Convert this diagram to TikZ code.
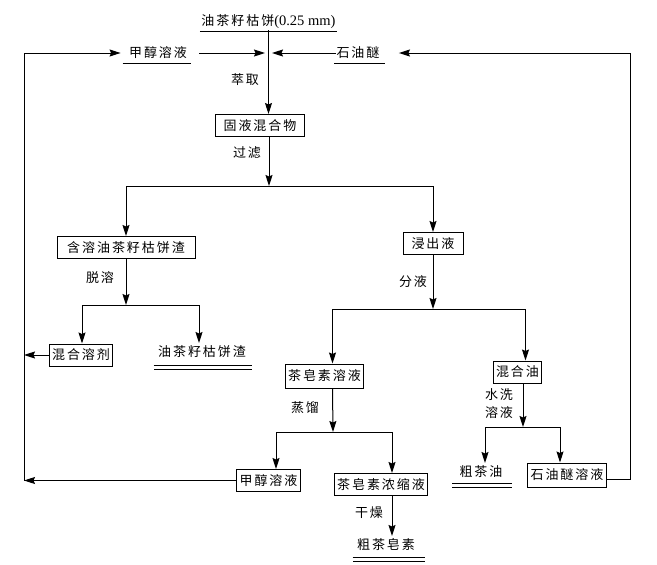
\documentclass[tikz,border=0pt]{standalone}
\usepackage{fontspec}
\setmainfont{Liberation Serif}
\newfontfamily\cjk[LetterSpace=15]{Noto Sans CJK SC}
\usepackage{tikz}
\usetikzlibrary{arrows.meta}

\begin{document}
\begin{tikzpicture}[x=1pt,y=-1pt,line width=1pt,>={Stealth[length=11pt,width=7pt,inset=1.5pt]},font=\cjk\fontsize{13}{18}\selectfont,
				box node/.style={draw,inner xsep=3pt,inner ysep=0pt,minimum height=22pt,text height=11pt,text depth=2pt},
				text node/.style={inner xsep=0pt,inner ysep=2pt,text height=11pt,text depth=2pt},
				double line/.style={double,double distance=3pt}]
				
				\useasboundingbox (0,0) rectangle (657,565);
				
				\node[text node] (1) at (268.5,21) {油茶籽枯饼{\rmfamily\fontsize{14.5}{18}\selectfont(0.25 mm)}};
				\node[text node] (2) at (158,53) {甲醇溶液};
				\node[text node] (3) at (358,53) {石油醚};
				\node[box node,minimum width=89] (4) at (260,125.5) {固液混合物};
				\node[box node,minimum width=138] (5) at (126,247.5) {含溶油茶籽枯饼渣};
				\node[box node,minimum width=60] (6) at (433,243.5) {浸出液};
				\node[box node] (7) at (81,355) {混合溶剂};
				\node[text node] (8) at (202,352) {油茶籽枯饼渣};
				\node[box node,minimum height=24] (9) at (324.5,376) {茶皂素溶液};
				\node[box node] (10) at (517.5,372) {混合油};
				\node[box node] (11) at (268.5,480.5) {甲醇溶液};
				\node[box node] (12) at (381,484.5) {茶皂素浓缩液};
				\node[box node,minimum height=24] (13) at (567,475) {石油醚溶液};
				\node[text node] (14) at (481,472) {粗茶油};
				\node[text node] (15) at (386,545) {粗茶皂素};
				
				\node (l1) at (245,80) {萃取};
				\node (l2) at (247,153) {过滤};
				\node (l3) at (100,278) {脱溶};
				\node (l4) at (413,282) {分液};
				\node (l5) at (305,408) {蒸馏};
				\node[align=center] (l6) at (499,404) {水洗\\溶液};
				\node (l7) at (369,513) {干燥};
				
				\coordinate (j1) at (269,53);
				\coordinate (b1) at (269,186);
				\coordinate (b2) at (126,305);
				\coordinate (b3) at (433,309);
				\coordinate (b4) at (333,432);
				\coordinate (b5) at (523,427);
				\coordinate (lt) at (24,53);
				\coordinate (rt) at (630,53);
				
				% underlines
				\draw ([xshift=-1pt,yshift=-1.5pt]1.south west) -- ([xshift=1pt,yshift=-1.5pt]1.south east);
				\draw ([xshift=-6pt,yshift=-1.5pt]2.south west) -- ([xshift=4pt,yshift=-1.5pt]2.south east);
				\draw ([xshift=-2pt,yshift=-1.5pt]3.south west) -- ([xshift=5pt,yshift=-1.5pt]3.south east);
				\draw[double line] ([xshift=-4pt,yshift=-6.5pt]8.south west) -- ([xshift=6pt,yshift=-6.5pt]8.south east);
				\draw[double line] ([xshift=-7pt,yshift=-4.5pt]14.south west) -- ([xshift=9pt,yshift=-4.5pt]14.south east);
				\draw[double line] ([xshift=-4pt,yshift=-5.5pt]15.south west) -- ([xshift=10pt,yshift=-5.5pt]15.south east);
				
				% extraction
				\draw[->] (1.south) -- (1.south |- 4.north);
				\draw[->,shorten <=12pt,shorten >=4pt] (2.east) -- (j1);
				\draw[->,shorten >=3pt] (3.west) -- (j1);
				\draw[->] (4.south -| j1) -- (b1);
				\draw[<->] (5.north) -- (5.north |- b1) -- (6.north |- b1) -- (6.north);
				
				% slag
				\draw[->] (5.south) -- (b2);
				\draw[<->] ([xshift=1pt]7.north) -- ([xshift=1pt]7.north |- b2) -- ([xshift=-3pt]8.north |- b2) -- ([xshift=-3pt]8.north);
				\draw[->] (7.west) -- (7.west -| lt);
				
				% leach liquor
				\draw[->] (6.south) -- (b3);
				\draw[<->] ([xshift=8pt]9.north) -- ([xshift=8pt]9.north |- b3) -- ([xshift=8pt]10.north |- b3) -- ([xshift=8pt]10.north);
				\draw[->] ([xshift=8pt]9.south) -- (b4);
				\draw[<->] ([xshift=7.5pt]11.north) -- ([xshift=7.5pt]11.north |- b4) -- ([xshift=11pt]12.north |- b4) -- ([xshift=11pt]12.north);
				\draw[->] ([xshift=11pt]12.south) -- ([xshift=11pt]15.north -| 12.south);
				\draw[->] ([xshift=5.5pt]10.south) -- (b5);
				\draw[<->] ([xshift=4pt]14.north) -- ([xshift=4pt]14.north |- b5) -- ([xshift=-7pt]13.north |- b5) -- ([xshift=-7pt]13.north);
				
				% recycling
				\draw[->] (11.west) -- (11.west -| lt);
				\draw[->,shorten >=8pt] (11.west -| lt) -- (lt) -- (2.west);
				\draw[->,shorten >=19pt] ([yshift=-4pt]13.east) -- ([yshift=-4pt]13.east -| rt) -- (rt) -- (3.east);
\end{tikzpicture}
\end{document}
